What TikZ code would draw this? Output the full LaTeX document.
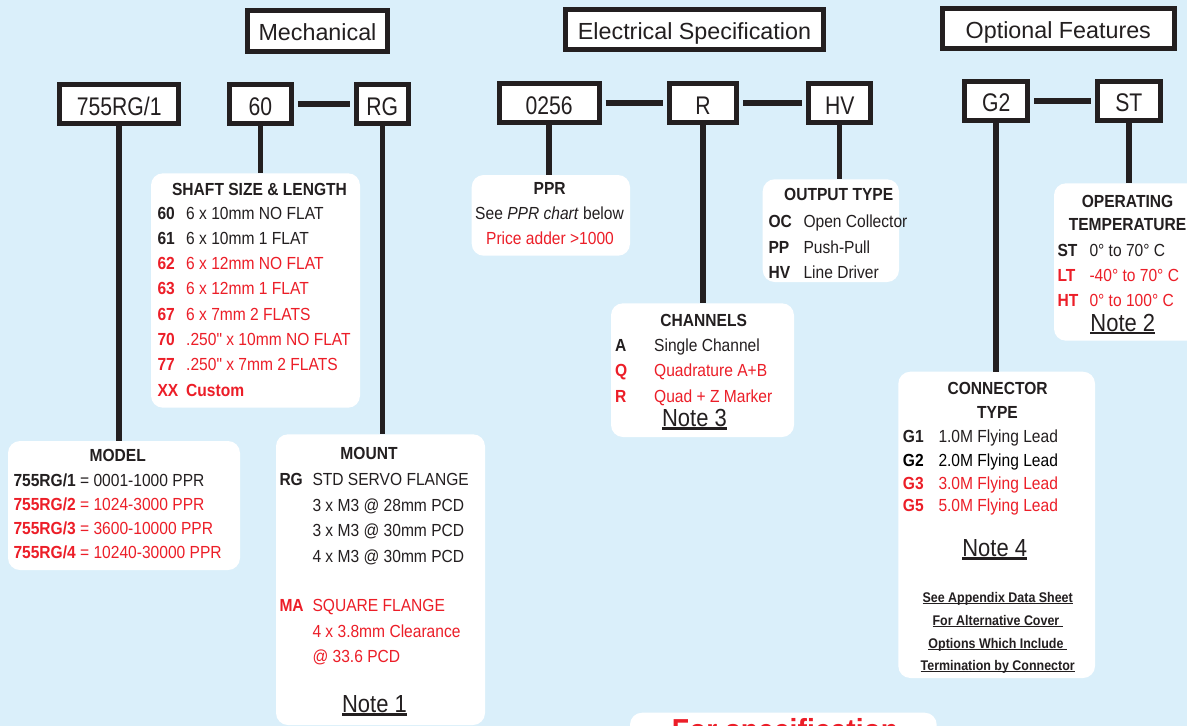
\documentclass[tikz,border=0pt]{standalone}
\usepackage{fontspec}
\setmainfont{Liberation Sans}[FakeStretch=0.89,Ligatures=TeXOff]
\newfontfamily\codefont{Liberation Sans}[FakeStretch=0.83]
\newfontfamily\headfont{Liberation Sans}
\usetikzlibrary{fit}

\definecolor{bgblue}{RGB}{218,239,250}
\definecolor{ink}{RGB}{35,31,32}
\definecolor{spred}{RGB}{236,30,40}

\newsavebox\ulbox
\newcommand\ulined[3]{\sbox\ulbox{#3}\rlap{\rule[-#1]{\wd\ulbox}{#2}}\usebox\ulbox}

\def\rowsep{25.3}

\begin{document}
\begin{tikzpicture}[x=1pt, y=-1pt, inner sep=0pt]
    \tikzstyle{header}=[draw=ink, line width=5pt, fill=white, text=ink, font=\headfont\fontsize{23.3}{26}\selectfont, text height=20pt, text depth=0pt, minimum height=40.5pt]
    \tikzstyle{codebox}=[draw=ink, line width=5pt, fill=white, text=ink, font=\codefont\fontsize{25.5}{28}\selectfont, text height=22pt, text depth=0pt, minimum height=38.5pt]
    \tikzstyle{infobox}=[fill=white, rounded corners=12pt]
    \tikzstyle{link}=[draw=ink, line width=5.5pt]
    \tikzstyle{joint}=[link, shorten <=4pt, shorten >=4pt]
    \tikzstyle{txt}=[anchor=base west, text=ink, font=\fontsize{17.5}{21}\selectfont]
    \tikzstyle{cd}=[txt, font=\fontsize{17.5}{21}\selectfont\bfseries]
    \tikzstyle{ttl}=[txt, anchor=base, font=\fontsize{17.5}{21}\selectfont\bfseries]
    \tikzstyle{note}=[anchor=base, text=ink, font=\fontsize{24.7}{28}\selectfont]
    \tikzstyle{fine}=[anchor=base, text=ink, font=\fontsize{14}{16}\selectfont\bfseries]

    \path[use as bounding box, clip] (0,0) rectangle (1187,726);
    \fill[bgblue] (0,0) rectangle (1187,726);

    % group headers
    \node[header, minimum width=140] (hmech) at (317.5,30.8) {Mechanical};
    \node[header, minimum width=257.4] (helec) at (694.5,29.5) {Electrical Specification};
    \node[header, minimum width=231.7] (hopt) at (1058.3,28.3) {Optional Features};

    % part number codes
    \node[codebox, minimum width=118.7] (c755) at (119.2,104) {755RG/1};
    \node[codebox, minimum width=62.3] (c60) at (260.3,104) {60};
    \node[codebox, minimum width=51.7] (cRG) at (382.3,104) {RG};
    \node[codebox, minimum width=100] (c0256) at (549.2,103) {0256};
    \node[codebox, minimum width=67.6] (cR) at (703,103) {R};
    \node[codebox, minimum width=62.3] (cHV) at (839.7,103) {HV};
    \node[codebox, minimum width=62.7] (cG2) at (996.2,100.8) {G2};
    \node[codebox, minimum width=62.7] (cST) at (1128.8,100.8) {ST};

    % option panels
    \node[infobox, fit={(8,441) (240,570)}] (modelbox) {};
    \node[infobox, fit={(151,173.3) (360,407.7)}] (shaftbox) {};
    \node[infobox, fit={(276,434.3) (485,725)}] (mountbox) {};
    \node[infobox, fit={(471.7,175) (630,255.7)}] (pprbox) {};
    \node[infobox, fit={(762.7,179.3) (899,282)}] (outbox) {};
    \node[infobox, fit={(611,303.3) (794,437)}] (chanbox) {};
    \node[infobox, fit={(898.3,371.7) (1095,678)}] (conbox) {};
    \node[infobox, fit={(1054,183.3) (1210,340.7)}] (tempbox) {};
    \node[infobox, fit={(630,712.7) (936.7,790)}] (specbox) {};

    % connectors
    \draw[joint] (c60.east) -- (c60.east -| cRG.west);
    \draw[joint] (c0256.east) -- (c0256.east -| cR.west);
    \draw[joint] (cR.east) -- (cR.east -| cHV.west);
    \draw[joint] (cG2.east) -- (cG2.east -| cST.west);
    \foreach \code/\panel in {c755/modelbox, c60/shaftbox, cRG/mountbox, c0256/pprbox, cR/chanbox, cHV/outbox, cG2/conbox, cST/tempbox}
        \draw[link] (\code.south) -- (\code.south |- \panel.north);

    % model
    \node[ttl] (modelttl) at (117.7,461.7) {MODEL};
    \foreach \n/\rng/\col [count=\i from 0] in {1/0001-1000/ink, 2/1024-3000/spred, 3/3600-10000/spred, 4/10240-30000/spred}
        \node[txt, text=\col] (model-\n) at (13.3,486+24.3*\i) {\textbf{755RG/\n} = \rng\ PPR};

    % shaft size
    \node[ttl] (shaftttl) at (259.5,195.7) {SHAFT SIZE \& LENGTH};
    \foreach \code/\desc/\col [count=\i from 0] in {60/6 x 10mm NO FLAT/ink, 61/6 x 10mm 1 FLAT/ink, 62/6 x 12mm NO FLAT/spred, 63/6 x 12mm 1 FLAT/spred, 67/6 x 7mm 2 FLATS/spred, 70/.250" x 10mm NO FLAT/spred, 77/.250" x 7mm 2 FLATS/spred, XX/\textbf{Custom}/spred} {
        \node[cd, text=\col] (shaft-c\i) at (157.3,219+\rowsep*\i) {\code};
        \node[txt, text=\col] (shaft-d\i) at (186,219+\rowsep*\i) {\desc};
    }

    % mount
    \node[ttl] (mountttl) at (369,459.3) {MOUNT};
    \node[cd] (mount-rg) at (279.3,485.7) {RG};
    \foreach \desc/\y [count=\i] in {STD SERVO FLANGE/485.7, 3 x M3 @ 28mm PCD/511, 3 x M3 @ 30mm PCD/536.5, 4 x M3 @ 30mm PCD/562}
        \node[txt] (mount-d\i) at (312.3,\y) {\desc};
    \node[cd, text=spred] (mount-ma) at (279.3,611.7) {MA};
    \foreach \desc/\y [count=\i from 5] in {SQUARE FLANGE/611.7, 4 x 3.8mm Clearance/637.5, @ 33.6 PCD/662.7}
        \node[txt, text=spred] (mount-d\i) at (312.3,\y) {\desc};
    \node[note] (note1) at (374.5,712.7) {\ulined{3pt}{2.4pt}{Note 1}};

    % ppr
    \node[ttl] (pprttl) at (549.7,194.3) {PPR};
    \node[txt, anchor=base] (ppr-1) at (549.5,219.3) {See \textit{PPR chart} below};
    \node[txt, anchor=base, text=spred] (ppr-2) at (550,244) {Price adder >1000};

    % output type
    \node[ttl] (outttl) at (838.7,200.7) {OUTPUT TYPE};
    \foreach \code/\desc/\y in {OC/Open Collector/227.3, PP/Push-Pull/253, HV/Line Driver/278.3} {
        \node[cd] (out-\code) at (768.3,\y) {\code};
        \node[txt] (out-d\code) at (803.3,\y) {\desc};
    }

    % channels
    \node[ttl] (chanttl) at (703.7,326) {CHANNELS};
    \foreach \code/\desc/\col/\y in {A/Single Channel/ink/351, Q/Quadrature A+B/spred/376.5, R/Quad + Z Marker/spred/402.3} {
        \node[cd, text=\col] (chan-\code) at (615,\y) {\code};
        \node[txt, text=\col] (chan-d\code) at (654,\y) {\desc};
    }
    \node[note] (note3) at (694.5,426.7) {\ulined{3pt}{2.4pt}{Note 3}};

    % connector type
    \node[ttl] (conttl) at (997.6,394.3) {CONNECTOR};
    \node[ttl] (conttl2) at (997.5,418.3) {TYPE};
    \foreach \code/\desc/\col/\y in {G1/1.0M Flying Lead/ink/442.7, G2/2.0M Flying Lead/black/466, G3/3.0M Flying Lead/spred/489.3, G5/5.0M Flying Lead/spred/511.7} {
        \node[cd, text=\col] (con-\code) at (902.7,\y) {\code};
        \node[txt, text=\col] (con-d\code) at (938.3,\y) {\desc};
    }
    \node[note] (note4) at (994.7,556.7) {\ulined{3pt}{2.4pt}{Note 4}};
    \foreach \line/\y [count=\i] in {See Appendix Data Sheet/602.3, For Alternative Cover\ /625, Options Which Include\ /648, Termination by Connector/670}
        \node[fine] (app-\i) at (997.7,\y) {\ulined{2pt}{1.2pt}{\line}};

    % operating temperature
    \node[ttl] (tempttl) at (1127.5,207.7) {OPERATING};
    \node[ttl] (tempttl2) at (1127.5,230) {TEMPERATURE};
    \foreach \code/\desc/\col/\y in {ST/0° to 70° C/ink/256, LT/-40° to 70° C/spred/281, HT/0° to 100° C/spred/306} {
        \node[cd, text=\col] (temp-\code) at (1057.3,\y) {\code};
        \node[txt, text=\col] (temp-d\code) at (1089.3,\y) {\desc};
    }
    \node[note] (note2) at (1122.8,331) {\ulined{3pt}{2.4pt}{Note 2}};

    % specification panel (cut by the page edge)
    \node[anchor=base, text=spred, font=\fontsize{31.8}{34}\selectfont\bfseries] (spectxt) at (785,741) {For specification};
\end{tikzpicture}
\end{document}
